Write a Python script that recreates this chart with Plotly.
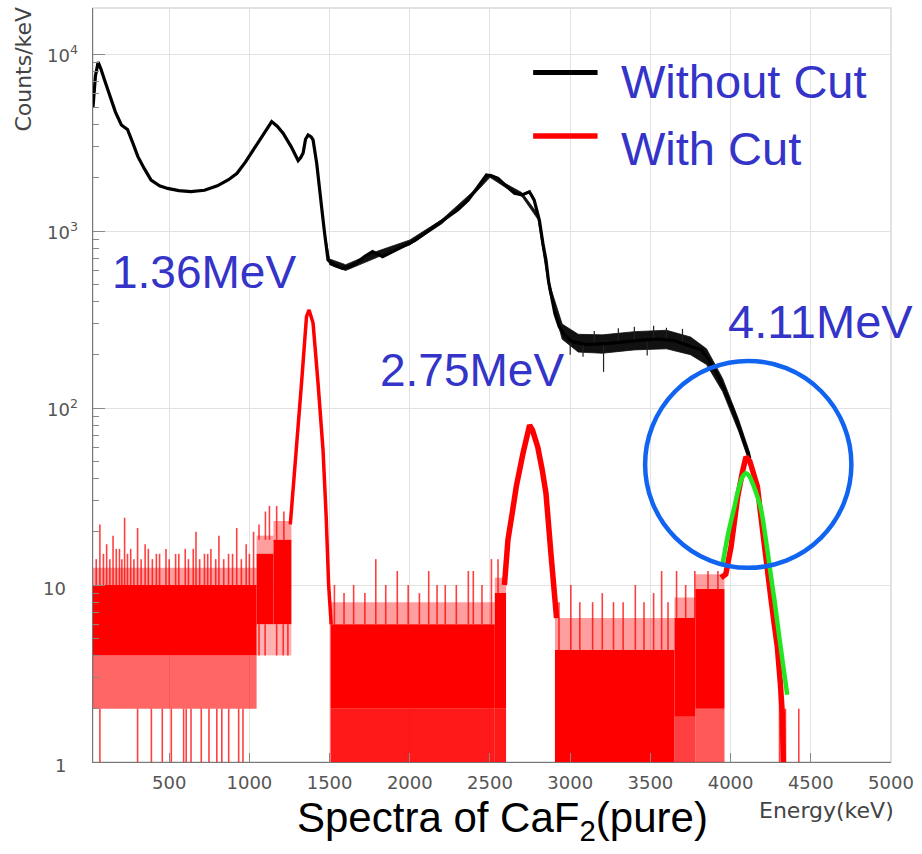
import math
import plotly.graph_objects as go

# ---------------- data ----------------
# Without Cut (black) spectrum, Counts/keV vs Energy (keV)
black_e = [25, 40, 57, 75, 100, 130, 165, 202, 220, 240, 270, 305, 345, 387, 440, 490, 560, 635, 720, 800,
           870, 923, 975, 1026, 1080, 1139, 1175, 1211, 1260, 1304, 1320, 1335, 1350, 1366, 1385, 1397, 1420,
           1438, 1455, 1469, 1490, 1530, 1582, 1625, 1665, 1720, 1768, 1800, 1830, 1900, 1960, 2035, 2140,
           2241, 2300, 2365, 2420, 2478, 2510, 2550, 2600, 2653, 2700, 2746, 2775, 2808, 2830, 2849, 2865,
           2880, 2905, 2932, 2970, 3014, 3100, 3241, 3350, 3447, 3550, 3653, 3740, 3818, 3860, 3900, 3940,
           3982, 4020, 4044, 4075, 4100, 4120]
black_v = [5000, 7500, 9000, 8200, 7000, 5740, 4700, 3970, 3850, 3750, 3200, 2630, 2250, 1940, 1800, 1740,
           1690, 1670, 1700, 1800, 1950, 2120, 2450, 2870, 3400, 4150, 3900, 3560, 3000, 2500, 2600, 2760,
           3300, 3490, 3400, 3270, 2400, 1780, 1250, 970, 686, 640, 615, 630, 657, 720, 765, 740, 716, 770,
           820, 889, 1040, 1205, 1320, 1497, 1750, 2071, 2050, 1985, 1800, 1635, 1600, 1667, 1500, 1150, 850,
           686, 520, 435, 340, 288, 255, 237, 228, 232, 238, 242, 245, 240, 225, 213, 190, 165, 140, 115, 95,
           82, 68, 57, 52]

# statistical spread (min / max) of the black histogram where it is noisy
black_band_e = [1470, 1500, 1600, 1800, 2000, 2200, 2400, 2500, 2600, 2700, 2800, 2870, 2950, 3050, 3200,
                3400, 3600, 3750, 3850, 3950, 4050, 4120]
black_band_lo = [935, 645, 598, 712, 835, 1100, 1610, 2010, 1755, 1565, 1160, 455, 245, 207, 204, 213, 216,
                 200, 176, 124, 74, 48.5]
black_band_hi = [990, 695, 645, 770, 890, 1160, 1690, 2100, 1845, 1645, 1240, 505, 298, 261, 259, 270, 275,
                 252, 216, 147, 86, 55.5]
black_spike_e = [3000, 3080, 3150, 3208, 3300, 3400, 3480, 3520, 3600, 3700]
black_spike_v = [200, 195, 272, 160, 282, 288, 198, 292, 284, 280]

# With Cut (red) spectrum: flat background stretches (dense fluctuation bands)
red_seg_start = [25, 1045, 1150, 1505, 2530, 2905, 3650, 3780]
red_seg_end = [1045, 1150, 1262, 2530, 2600, 3650, 3780, 3962]
red_solid_lo = [4, 6, 6, 2, 2, 1, 1.8, 2]
red_solid_hi = [10, 15, 18, 6, 9, 4.3, 6.5, 9.5]
red_under_lo = [2, 4, 4, 0.9, 0.9, 0.9, 0.9, 0.9]
red_under_cover = [0.6, 0.3, 0.3, 0.9, 0.9, 0.0, 0.75, 0.65]
red_over_hi = [12.5, 19, 23, 8, 11, 6.5, 8.5, 11.5]

# single-bin excursions of the red histogram (energy, from, to)
red_stroke_e = [68, 303, 389, 457, 513, 590, 606, 636, 700, 748, 797, 828, 871, 933, 960,
                68, 110, 150, 190, 222, 260, 303, 350, 420, 480, 540, 600, 667, 720, 760, 810, 870, 921, 980, 1026,
                1060, 1098, 1170, 1211, 1240,
                1060, 1100, 1125, 1170, 1215,
                1530, 1590, 1650, 1720, 1788, 1850, 1922, 1990, 2060, 2118, 2170, 2221, 2290, 2365, 2396, 2450,
                2509, 2550,
                2930, 3004, 3060, 3140, 3200, 3270, 3330, 3406, 3460, 3520, 3570, 3610,
                3663, 3720, 3777, 3859, 3921,
                4305, 4318, 4330, 4342, 4425,
                45, 90, 130, 170, 205, 240, 280, 325, 370, 395, 440, 500, 560, 620, 650, 690, 740, 790, 840, 895,
                950, 1000]
red_stroke_lo = [0.9] * 15 + [10] * 20 + [4] * 5 + [18] * 5 + [6] * 18 + [4.3] * 12 + \
                [6.5, 6.5, 6.5, 9.5, 9.5] + [0.9] * 5 + [10] * 22
red_stroke_hi = [2] * 15 + \
                [22, 17, 19, 16, 24, 16, 21, 17, 15, 16, 15, 16, 20, 15, 16, 19, 15, 21, 17, 20] + \
                [6] * 5 + [22, 26, 28, 28, 26] + \
                [10, 9, 10, 9, 14, 10, 12, 10, 9, 12, 10, 10, 10, 12, 12, 10, 14, 14] + \
                [8, 10, 8, 8, 9, 8, 8, 10, 8, 9, 12, 8] + \
                [12, 10, 12, 12, 12] + [2.5, 2.2, 2, 2, 2] + \
                [14, 15, 14, 16, 14, 15, 14, 14, 16, 14, 15, 14, 15, 14, 16, 14, 15, 14, 14, 15, 14, 15]

# full-energy peaks of the red spectrum
peak1_e = [1255, 1262, 1292, 1325, 1356, 1372, 1397, 1428, 1459, 1479, 1494, 1510]
peak1_v = [22, 26, 58, 138, 328, 358, 302, 138, 58, 24, 10, 6]
peak2_e = [2590, 2612, 2640, 2664, 2705, 2730, 2747, 2765, 2798, 2825, 2849, 2880, 2901, 2915]
peak2_v = [10, 18, 26, 36, 55, 70, 80, 75, 60, 45, 33, 15, 8.2, 6.5]
peak3_e = [3940, 3970, 4003, 4023, 4044, 4075, 4096, 4120, 4145, 4167, 4190, 4209, 4230, 4250, 4270, 4291,
           4310, 4322, 4330]
peak3_v = [11, 11.5, 16.5, 24, 31.5, 44, 53, 50, 43, 36, 24, 16.5, 11.5, 8.6, 6.2, 4.5, 2.8, 1.9, 0.9]

# Gaussian fit of the 4.11 MeV peak (green)
fit_e = [3951, 3985, 4024, 4050, 4075, 4096, 4117, 4140, 4165, 4189, 4220, 4250, 4275, 4302, 4328, 4353]
fit_v = [13.3, 19.5, 27.7, 35, 40.9, 42.8, 41.2, 37, 32, 27, 18, 11.5, 8, 5.2, 3.5, 2.4]

# highlighted region (circle) in data units
circle_e = [3467, 4753]
circle_v = [12.5, 184.5]

peak_labels = ["1.36MeV", "2.75MeV", "4.11MeV"]
legend_labels = ["Without Cut", "With Cut"]
x_tick_vals = [500, 1000, 1500, 2000, 2500, 3000, 3500, 4000, 4500, 5000]
y_tick_vals = [1, 10, 100, 1000, 10000]
y_tick_text = ["1", "10", "10<sup>2</sup>", "10<sup>3</sup>", "10<sup>4</sup>"]

# ---------------- figure ----------------
W, H = 922, 854
L, R, T, B = 93, 24, 8, 92
PW, PH = W - L - R, H - T - B
Y_LOG_RANGE = [0, 4.26]


def px(xp):
    return (xp - L) / PW


def py(yp):
    return (H - B - yp) / PH


def pv(v):  # data value on the log y axis -> paper fraction
    return (math.log10(v) - Y_LOG_RANGE[0]) / (Y_LOG_RANGE[1] - Y_LOG_RANGE[0])


RED = "#ff0000"
BLUE_TXT = "#3434c8"
fig = go.Figure()

# black noise band + line
fig.add_trace(go.Scatter(x=black_band_e + black_band_e[::-1], y=black_band_hi + black_band_lo[::-1],
                         fill="toself", fillcolor="#111111", mode="lines", line=dict(width=0.8, color="#111111"),
                         hoverinfo="skip"))
sx, sy = [], []
for e, v in zip(black_spike_e, black_spike_v):
    c = black_v[min(range(len(black_e)), key=lambda i: abs(black_e[i] - e))]
    sx += [e, e, None]
    sy += [c, v, None]
fig.add_trace(go.Scatter(x=sx, y=sy, mode="lines", line=dict(color="#222222", width=1.2), hoverinfo="skip"))
fig.add_trace(go.Scatter(x=black_e, y=black_v, mode="lines", line=dict(color="black", width=3.2),
                         name=legend_labels[0]))

# red background bands
for s, e, slo, shi, ulo, cov, ohi in zip(red_seg_start, red_seg_end, red_solid_lo, red_solid_hi,
                                         red_under_lo, red_under_cover, red_over_hi):
    if cov > 0:
        fig.add_trace(go.Scatter(x=[s, e, e, s, s], y=[ulo, ulo, slo, slo, ulo], fill="toself",
                                 fillcolor="rgba(255,0,0,%.2f)" % cov, mode="lines", line=dict(width=0),
                                 hoverinfo="skip"))
    fig.add_trace(go.Scatter(x=[s, e, e, s, s], y=[shi, shi, ohi, ohi, shi], fill="toself",
                             fillcolor="rgba(255,0,0,0.38)", mode="lines", line=dict(width=0), hoverinfo="skip"))
    fig.add_trace(go.Scatter(x=[s, e, e, s, s], y=[slo, slo, shi, shi, slo], fill="toself",
                             fillcolor=RED, mode="lines", line=dict(width=0), hoverinfo="skip"))

rx, ry = [], []
for e, lo, hi in zip(red_stroke_e, red_stroke_lo, red_stroke_hi):
    rx += [e, e, None]
    ry += [lo, hi, None]
fig.add_trace(go.Scatter(x=rx, y=ry, mode="lines", line=dict(color="rgba(255,0,0,0.75)", width=1.6),
                         hoverinfo="skip"))

fig.add_trace(go.Scatter(x=peak1_e, y=peak1_v, mode="lines", line=dict(color=RED, width=3.5), hoverinfo="skip"))
fig.add_trace(go.Scatter(x=peak2_e, y=peak2_v, mode="lines", line=dict(color=RED, width=5.5), hoverinfo="skip"))
fig.add_trace(go.Scatter(x=peak3_e, y=peak3_v, mode="lines", line=dict(color=RED, width=5.5),
                         name=legend_labels[1]))

# green fit
fig.add_trace(go.Scatter(x=fit_e, y=fit_v, mode="lines", line=dict(color="#22e622", width=4.5),
                         line_shape="spline", hoverinfo="skip"))

shapes = [
    dict(type="rect", xref="paper", yref="paper", x0=0, x1=1, y0=0, y1=1,
         line=dict(color="#d9d9d9", width=1.5), layer="below"),
    dict(type="circle", xref="x", yref="y", x0=circle_e[0], x1=circle_e[1],
         y0=circle_v[0], y1=circle_v[1], line=dict(color="#1064f0", width=4.5)),
    dict(type="line", xref="paper", yref="paper", x0=px(537), x1=px(602), y0=py(72.5), y1=py(72.5),
         line=dict(color="black", width=5)),
    dict(type="line", xref="paper", yref="paper", x0=px(537), x1=px(602), y0=py(136), y1=py(136),
         line=dict(color=RED, width=5.5)),
]

big = dict(family="Liberation Sans, Arial, sans-serif", size=46, color=BLUE_TXT)
tick_font = dict(family="DejaVu Sans", size=18, color="#555555")
annotations = [
    dict(text=peak_labels[0], x=px(205), y=py(272), xref="paper", yref="paper", showarrow=False,
         xanchor="center", yanchor="middle", font=big),
    dict(text=peak_labels[1], x=px(475), y=py(370), xref="paper", yref="paper", showarrow=False,
         xanchor="center", yanchor="middle", font=big),
    dict(text=peak_labels[2], x=px(732), y=py(321), xref="paper", yref="paper", showarrow=False,
         xanchor="left", yanchor="middle", font=dict(big, size=47)),
    dict(text=legend_labels[0], x=px(624), y=py(81), xref="paper", yref="paper", showarrow=False,
         xanchor="left", yanchor="middle", font=dict(big, size=47)),
    dict(text=legend_labels[1], x=px(624), y=py(148), xref="paper", yref="paper", showarrow=False,
         xanchor="left", yanchor="middle", font=dict(big, size=47)),
    dict(text="Counts/keV", x=px(23), y=py(69), xref="paper", yref="paper", showarrow=False,
         textangle=-90, xanchor="center", yanchor="middle",
         font=dict(family="DejaVu Sans", size=22, color="#444444")),
    dict(text="Energy(keV)", x=px(903), y=py(811), xref="paper", yref="paper", showarrow=False,
         xanchor="right", yanchor="middle", font=dict(family="DejaVu Sans", size=22, color="#444444")),
    dict(text="Spectra of CaF<sub>2</sub>(pure)", x=px(506), y=py(820), xref="paper", yref="paper",
         showarrow=False, xanchor="center", yanchor="middle",
         font=dict(family="Liberation Sans, Arial, sans-serif", size=42, color="black")),
]
# y tick labels (ROOT style: superscript hanging to the right of the aligned "10")
for v, t in zip(y_tick_vals, y_tick_text):
    has_sup = "<sup>" in t
    annotations.append(dict(text=t, x=px(80 if has_sup else 68), y=pv(v), xref="paper", yref="paper",
                            showarrow=False, xanchor="right", yanchor="middle",
                            yshift=0 if has_sup else -3, font=tick_font))

minor_y = [k * 10 ** d for d in range(0, 5) for k in range(2, 10)]

fig.update_layout(
    width=W, height=H, margin=dict(l=L, r=R, t=T, b=B), autosize=False,
    plot_bgcolor="white", paper_bgcolor="white", showlegend=False,
    shapes=shapes, annotations=annotations,
    xaxis=dict(range=[25, 5000], tickvals=x_tick_vals, ticktext=[str(v) for v in x_tick_vals],
               ticks="inside", ticklen=9, tickcolor="#888888", showline=True, linecolor="#777777",
               showgrid=True, gridcolor="#e2e2e2", zeroline=False, ticklabelstandoff=4,
               tickfont=tick_font),
    yaxis=dict(type="log", range=Y_LOG_RANGE, tickvals=y_tick_vals, showticklabels=False,
               ticks="inside", ticklen=12, tickcolor="#888888", showline=True, linecolor="#777777",
               showgrid=True, gridcolor="#e2e2e2", zeroline=False,
               minor=dict(tickvals=minor_y, ticks="inside", ticklen=6, tickcolor="#888888", showgrid=False)),
)

fig.write_html("out.html", include_plotlyjs=True, config={"displayModeBar": False})
